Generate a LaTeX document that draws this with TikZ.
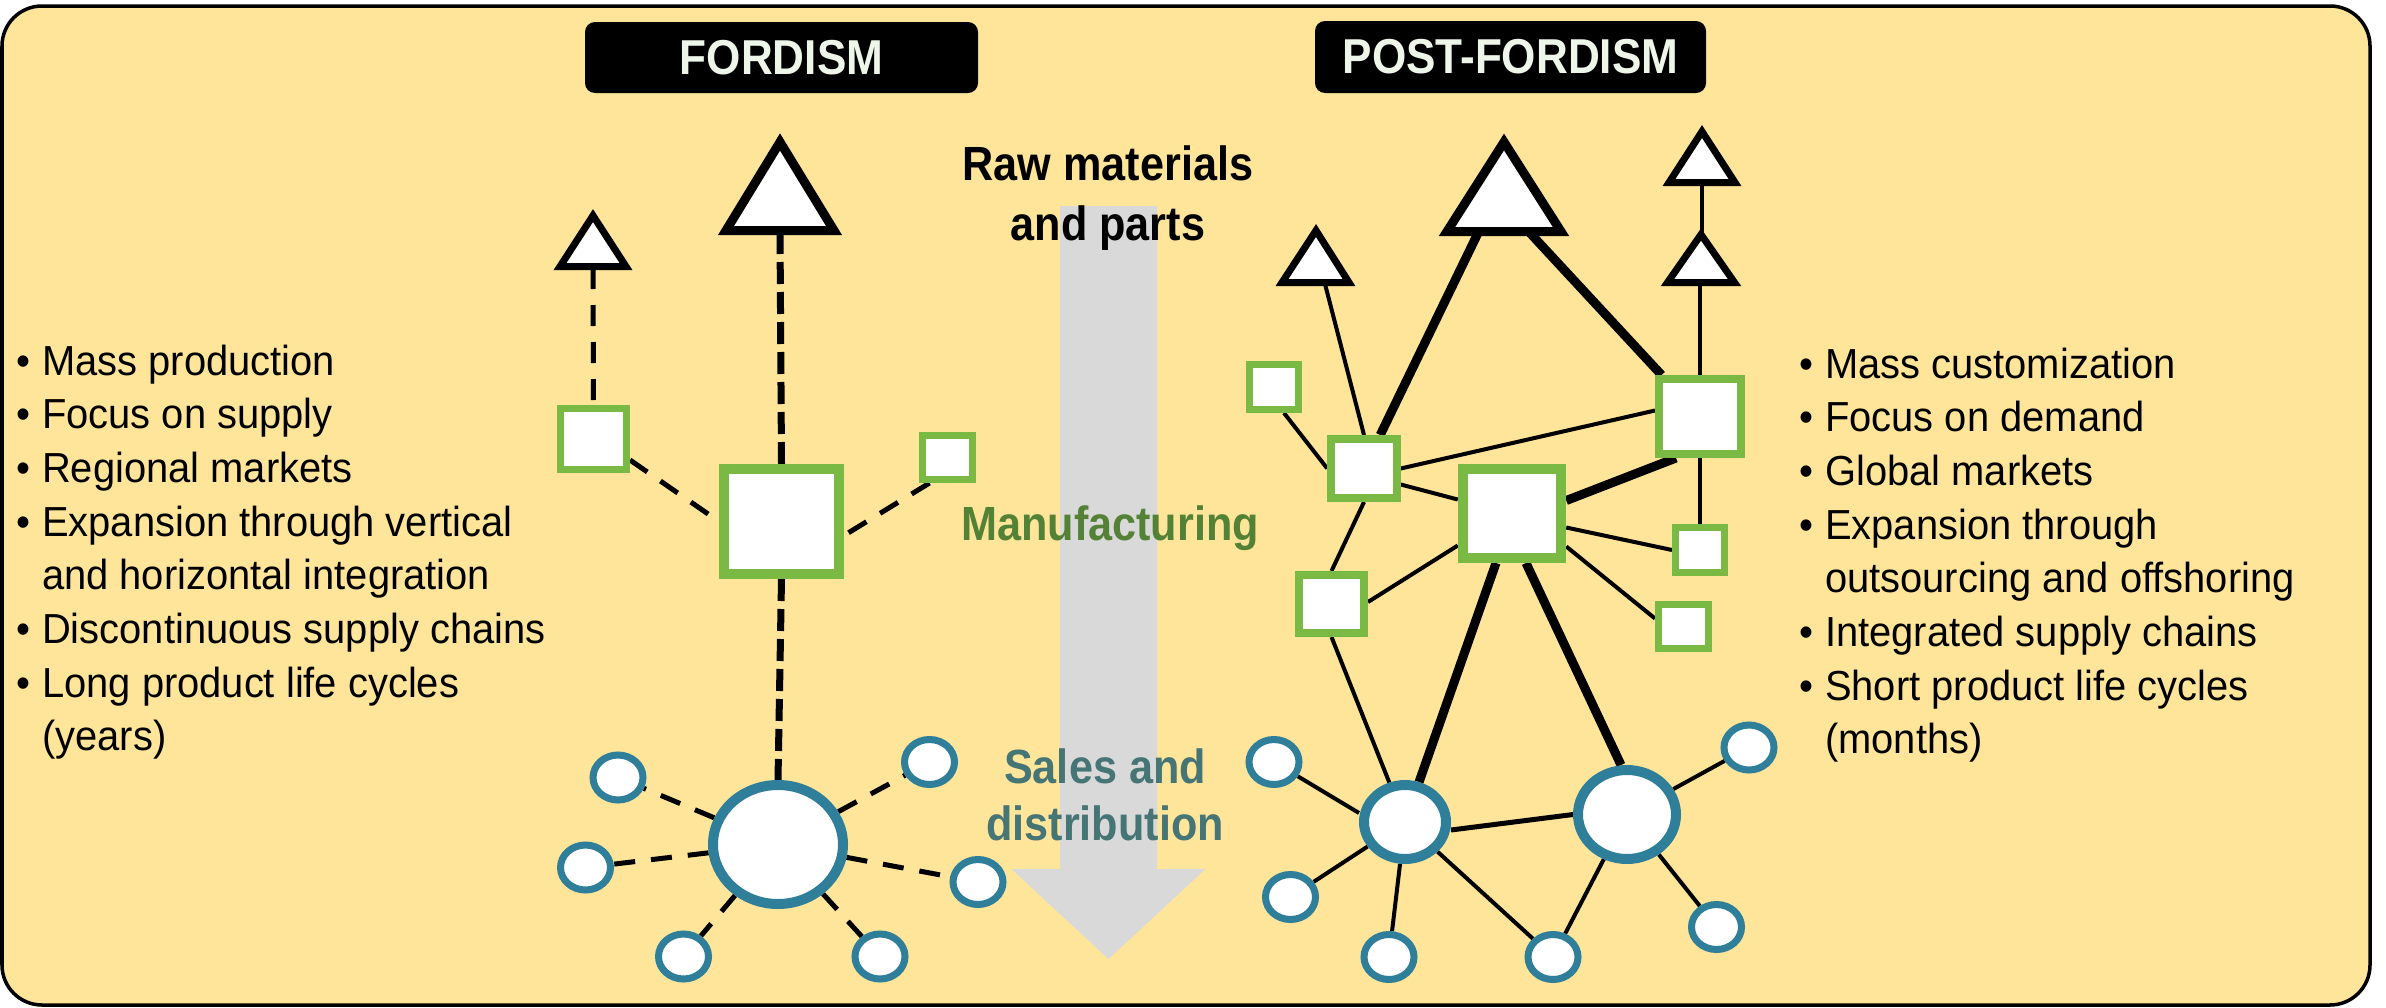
\documentclass[tikz,border=0pt]{standalone}
\usepackage{fontspec}
\setmainfont{Liberation Sans}
\newfontfamily\bodyfont[FakeStretch=0.95]{Liberation Sans}
\newfontfamily\headfont[FakeStretch=0.9]{Liberation Sans}
\usetikzlibrary{shapes.geometric,calc}
\definecolor{bgyellow}{RGB}{255,229,153}
\definecolor{sqgreen}{RGB}{122,185,67}
\definecolor{circteal}{RGB}{47,127,155}
\definecolor{mfggreen}{RGB}{83,129,53}
\definecolor{salesteal}{RGB}{70,117,118}
\definecolor{arrowgray}{RGB}{217,217,217}
\definecolor{titlewhite}{RGB}{238,246,234}
\pgfdeclarelayer{back}
\pgfdeclarelayer{edges}
\pgfsetlayers{back,edges,main}
\tikzset{
  sq/.style={draw=sqgreen, fill=white, rectangle, inner sep=0pt},
  circ/.style={draw=circteal, fill=white, ellipse, inner sep=0pt},
  smallcirc/.style={circ, line width=7pt, minimum width=50pt, minimum height=45pt},
  tri/.style={draw=black, fill=white, line join=miter},
  thinlink/.style={draw=black, line width=4pt},
  thicklink/.style={draw=black, line width=9pt},
  fdash/.style={draw=black, line width=5pt, dash pattern=on 21pt off 16pt},
  fdashthick/.style={draw=black, line width=7pt, dash pattern=on 22pt off 8pt},
  titlebox/.style={fill=black, rounded corners=10pt, inner sep=0pt, text=titlewhite,
    font=\headfont\bfseries\fontsize{49}{59}\selectfont},
  bullets/.style={anchor=base west, inner sep=0pt, font=\bodyfont\fontsize{42}{53.7}\selectfont},
  midtext/.style={anchor=base, inner sep=0pt, font=\headfont\bfseries\fontsize{48}{60}\selectfont}
}
\begin{document}
\begin{tikzpicture}[x=1pt,y=-1pt]
\useasboundingbox (0,0) rectangle (2386,1007);
\begin{pgfonlayer}{back}
\fill[white] (0,0) rectangle (2386,1007);
\draw[line width=3.5pt, fill=bgyellow, rounded corners=40pt] (2,6) rectangle (2370,1005);
\fill[arrowgray] (1060,206) -- (1157,206) -- (1157,869) -- (1205.5,869) -- (1108.5,959)
  -- (1011.5,869) -- (1060,869) -- cycle;
\end{pgfonlayer}

% titles
\node[titlebox, minimum width=393pt, minimum height=71pt] (tfordism) at (781.5,57.5) {FORDISM};
\node[titlebox, minimum width=391pt, minimum height=72pt] (tpost) at (1510.5,57) {POST-FORDISM};

% centre labels
\node[midtext] (raw) at (1108,180) {\begin{tabular}[t]{@{}c@{}}Raw materials\\and parts\end{tabular}};
\node[midtext, text=mfggreen] (mfg) at (1110,540) {Manufacturing};
\node[midtext, text=salesteal, font=\headfont\bfseries\fontsize{48}{57}\selectfont] (sales) at (1105,783)
  {\begin{tabular}[t]{@{}c@{}}Sales and\\distribution\end{tabular}};

% bullet lists
\node[bullets] (leftlist) at (16,375) {\begin{tabular}[t]{@{}l@{}l@{}}
\makebox[26pt][l]{•} & Mass production\\
\makebox[26pt][l]{•} & Focus on supply\\
\makebox[26pt][l]{•} & Regional markets\\
\makebox[26pt][l]{•} & Expansion through vertical\\
 & and horizontal integration\\
\makebox[26pt][l]{•} & Discontinuous supply chains\\
\makebox[26pt][l]{•} & Long product life cycles\\
 & (years)
\end{tabular}};
\node[bullets] (rightlist) at (1799,378) {\begin{tabular}[t]{@{}l@{}l@{}}
\makebox[26pt][l]{•} & Mass customization\\
\makebox[26pt][l]{•} & Focus on demand\\
\makebox[26pt][l]{•} & Global markets\\
\makebox[26pt][l]{•} & Expansion through\\
 & outsourcing and offshoring\\
\makebox[26pt][l]{•} & Integrated supply chains\\
\makebox[26pt][l]{•} & Short product life cycles\\
 & (months)
\end{tabular}};

% ---------- Fordism ----------
\draw[tri, line width=7pt] (593,215.6) -- (626,266.5) -- (560,266.5) -- cycle;
\draw[tri, line width=9pt] (780,142) -- (834,230.5) -- (726,230.5) -- cycle;
\coordinate (t1b) at (593,268);
\coordinate (t2b) at (780,232);
\node[sq, line width=7pt, minimum width=66pt, minimum height=61pt] (fs1) at (593.5,439) {};
\node[sq, line width=10pt, minimum width=115pt, minimum height=105pt] (fsB) at (781.5,521.5) {};
\node[sq, line width=7pt, minimum width=50pt, minimum height=44pt] (fs2) at (947.5,457.5) {};
\node[circ, line width=10pt, minimum width=130pt, minimum height=119pt] (fc) at (778,844.5) {};
\node[smallcirc] (fc1) at (618,777.5) {};
\node[smallcirc] (fc2) at (585.5,867.5) {};
\node[smallcirc] (fc3) at (683.5,956.5) {};
\node[smallcirc] (fc4) at (880,956.5) {};
\node[smallcirc] (fc5) at (978,882) {};
\node[smallcirc] (fc6) at (929.5,762) {};

% ---------- Post-Fordism ----------
\draw[tri, line width=9pt] (1504,142) -- (1561,231.5) -- (1447,231.5) -- cycle;
\draw[tri, line width=7pt] (1702,131.5) -- (1735,182.5) -- (1669,182.5) -- cycle;
\draw[tri, line width=7pt] (1701,234.5) -- (1734.5,282.5) -- (1667.5,282.5) -- cycle;
\draw[tri, line width=7pt] (1316,230.5) -- (1349,282.5) -- (1282,282.5) -- cycle;
\coordinate (t3bl) at (1478,233);
\coordinate (t3br) at (1530,233);
\coordinate (t4b) at (1702,184);
\coordinate (t5a) at (1702,238);
\coordinate (t5b) at (1700,284);
\coordinate (t6b) at (1325,284);
\node[sq, line width=7pt, minimum width=49pt, minimum height=45pt] (pTL) at (1274,387) {};
\node[sq, line width=8pt, minimum width=65.5pt, minimum height=59pt] (pA) at (1364,468.5) {};
\node[sq, line width=8pt, minimum width=82pt, minimum height=75pt] (pB) at (1700,416.5) {};
\node[sq, line width=10pt, minimum width=98.5pt, minimum height=89pt] (pC) at (1512,513.5) {};
\node[sq, line width=7pt, minimum width=49pt, minimum height=45pt] (pD) at (1700,550) {};
\node[sq, line width=8pt, minimum width=65pt, minimum height=58pt] (pE) at (1331.5,604) {};
\node[sq, line width=7pt, minimum width=50pt, minimum height=44pt] (pF) at (1683.5,626.5) {};
\node[circ, line width=10pt, minimum width=82pt, minimum height=74pt] (G) at (1405,822) {};
\node[circ, line width=10pt, minimum width=98pt, minimum height=89pt] (H) at (1627,814.5) {};
\node[smallcirc] (i1) at (1274,762) {};
\node[smallcirc] (i2) at (1290.5,897) {};
\node[smallcirc] (i3) at (1389,957) {};
\node[smallcirc] (i4) at (1553,957) {};
\node[smallcirc] (i5) at (1716.5,927) {};
\node[smallcirc] (i6) at (1749,747.5) {};

\begin{pgfonlayer}{edges}
% Fordism connectors
\draw[fdash] (t1b) -- (fs1.north);
\draw[fdashthick] (t2b) -- (fsB.north);
\draw[fdash] ([yshift=-21pt]fs1.east) -- (fsB.west);
\draw[fdash] ([xshift=-18pt]fs2.south) -- ([yshift=-14pt]fsB.east);
\draw[fdashthick] (fsB.south) -- (fc.north);
\foreach \n in {1,...,6} \draw[fdash] (fc) -- (fc\n);
% Post-Fordism connectors
\draw[thinlink] (t6b) -- (pA.north);
\draw[thicklink] (t3bl) -- (pA);
\draw[thicklink] (t3br) -- (pB);
\draw[thinlink] (t4b) -- (t5a);
\draw[thinlink] (t5b) -- (pB.north);
\draw[thinlink] ([xshift=10pt]pTL.south) -- (pA.west);
\draw[thinlink] (pA.east) -- ([yshift=6pt]pB.west);
\draw[thinlink] ([yshift=-16pt]pA.east) -- ([yshift=14pt]pC.west);
\draw[thicklink] ([xshift=-24pt]pB.south) -- ([yshift=13pt]pC.east);
\draw[thinlink] (pB.south) -- (pD.north);
\draw[thinlink] ([yshift=-14pt]pC.east) -- (pD.west);
\draw[thinlink] ([yshift=-33pt]pC.east) -- ([yshift=8pt]pF.west);
\draw[thinlink] ([yshift=-32pt]pC.west) -- ([yshift=2pt]pE.east);
\draw[thinlink] (pA.south) -- (pE.north);
\draw[thinlink] (pE.south) -- (G);
\draw[thicklink] ([xshift=-16pt]pC.south) -- (G);
\draw[thicklink] ([xshift=14pt]pC.south) -- ([xshift=-6pt]H.north);
\draw[thinlink, line width=5pt] ([yshift=-8pt]G.east) -- (H.west);
\draw[thinlink] ([yshift=9pt]G.west) -- (i1);
\draw[thinlink] (G) -- (i2);
\draw[thinlink] (G) -- (i3);
\draw[thinlink] (G) -- (i4);
\draw[thinlink] (H) -- (i4);
\draw[thinlink] (H) -- (i5);
\draw[thinlink] (H) -- (i6);
\end{pgfonlayer}
\end{tikzpicture}
\end{document}
